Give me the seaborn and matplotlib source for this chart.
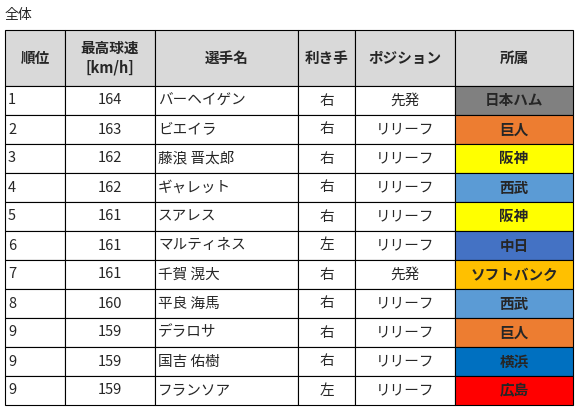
import matplotlib
matplotlib.use("Agg")
import matplotlib.pyplot as plt
import seaborn as sns
from matplotlib.patches import Rectangle

sns.set_theme(style="white")
plt.rcParams['font.family'] = ['Noto Sans CJK JP', 'DejaVu Sans']

title = "全体"
headers = ["順位", "最高球速\n[km/h]", "選手名", "利き手", "ポジション", "所属"]
ranks = ["1", "2", "3", "4", "5", "6", "7", "8", "9", "9", "9"]
speeds = [164, 163, 162, 162, 161, 161, 161, 160, 159, 159, 159]
players = ["バーヘイゲン", "ビエイラ", "藤浪 晋太郎", "ギャレット", "スアレス", "マルティネス",
           "千賀 滉大", "平良 海馬", "デラロサ", "国吉 佑樹", "フランソア"]
hands = ["右", "右", "右", "右", "右", "左", "右", "右", "右", "右", "左"]
positions = ["先発", "リリーフ", "リリーフ", "リリーフ", "リリーフ", "リリーフ",
             "先発", "リリーフ", "リリーフ", "リリーフ", "リリーフ"]
teams = ["日本ハム", "巨人", "阪神", "西武", "阪神", "中日", "ソフトバンク", "西武", "巨人", "横浜", "広島"]
team_colors = {"日本ハム": "#808080", "巨人": "#ED7D31", "阪神": "#FFFF00", "西武": "#5B9BD5",
               "中日": "#4472C4", "ソフトバンク": "#FFC000", "横浜": "#0070C0", "広島": "#FF0000"}

fig = plt.figure(figsize=(5.78, 4.09), dpi=100)
ax = fig.add_axes([0, 0, 1, 1])
ax.set_xlim(0, 578)
ax.set_ylim(409, 0)
ax.axis("off")

cols = [5, 65, 155, 298, 355, 455, 573]
top, head_h, row_h = 30, 56, 29
ax.text(5, 15, title, fontsize=10, va="center", ha="left")

def cell(x0, x1, y0, y1, txt, fc="white", ha="center", bold=False):
    ax.add_patch(Rectangle((x0, y0), x1 - x0, y1 - y0, fc=fc, ec="black", lw=0.8))
    x = (x0 + x1) / 2 if ha == "center" else x0 + 3
    ax.text(x, (y0 + y1) / 2, txt, ha=ha, va="center", fontsize=10.5,
            fontweight="bold" if bold else "normal", linespacing=1.3)

for j, h in enumerate(headers):
    cell(cols[j], cols[j + 1], top, top + head_h, h, fc="#D9D9D9", bold=True)

for i in range(len(ranks)):
    y0 = top + head_h + i * row_h
    y1 = y0 + row_h
    vals = [ranks[i], str(speeds[i]), players[i], hands[i], positions[i]]
    aligns = ["left", "center", "left", "center", "center"]
    for j, v in enumerate(vals):
        cell(cols[j], cols[j + 1], y0, y1, v, ha=aligns[j])
    cell(cols[5], cols[6], y0, y1, teams[i], fc=team_colors[teams[i]], bold=True)

fig.savefig("out.png", dpi=100)
